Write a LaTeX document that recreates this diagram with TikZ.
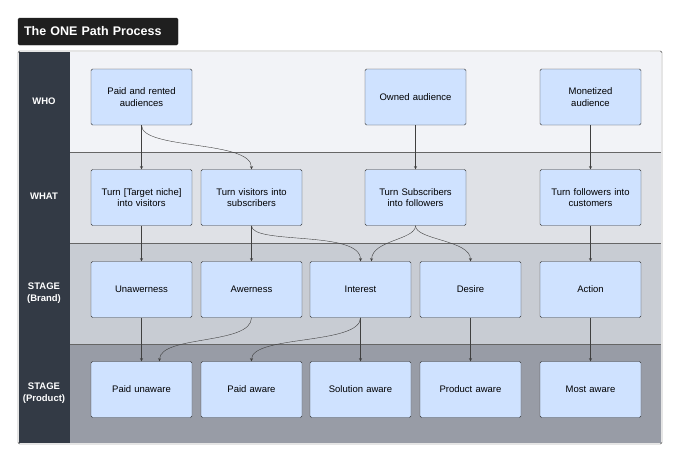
\documentclass[tikz,border=0pt]{standalone}
\usepackage{fontspec}
\setmainfont{Liberation Sans}
\usetikzlibrary{positioning}
\definecolor{darkbar}{HTML}{333A45}
\definecolor{rowa}{HTML}{F2F3F7}
\definecolor{rowb}{HTML}{DFE1E6}
\definecolor{rowc}{HTML}{C8CCD3}
\definecolor{rowd}{HTML}{989CA6}
\definecolor{boxfill}{HTML}{CFE2FF}
\tikzset{
  box/.style={draw=black!80, fill=boxfill, rounded corners=1.5pt, minimum width=101pt, minimum height=56pt, inner sep=2pt, text width=96pt, align=center, font=\fontsize{9.5}{11.5}\selectfont},
  lbl/.style={text=white, font=\bfseries\fontsize{9.5}{11.5}\selectfont, align=center},
  conn/.style={draw=black!75, ->, >=stealth}
}
\begin{document}
\begin{tikzpicture}[x=1pt,y=-1pt]
				\useasboundingbox (0,0) rectangle (680,463);
				% title
				\node[fill=black!88, draw=black!88, rounded corners=1.5pt, text=white, font=\bfseries\fontsize{12.5}{14}\selectfont, minimum width=160pt, minimum height=27pt, text width=148pt, align=left] (title) at (98,31.5) {The ONE Path Process};
				% rows
				\fill[rowa] (70,52) rectangle (661,152);
				\fill[rowb] (70,152) rectangle (661,243);
				\fill[rowc] (70,243) rectangle (661,344);
				\fill[rowd] (70,344) rectangle (661,443);
				\fill[darkbar] (19,52) rectangle (70,443);
				\draw[black!60] (70,152) -- (661,152) (70,243) -- (661,243) (70,344) -- (661,344);
				\draw[black!80, rounded corners=1.5pt] (18,51) rectangle (662,444);
				\node[lbl] (who) at (44,101) {WHO};
				\node[lbl] (what) at (44,196) {WHAT};
				\node[lbl] (brand) at (44,293) {STAGE\\(Brand)};
				\node[lbl] (product) at (44,393) {STAGE\\(Product)};
				
				\node[box] (paid) at (141.5,97) {Paid and rented\\audiences};
				\node[box] (owned) at (415.5,97) {Owned audience};
				\node[box] (monet) at (590.5,97) {Monetized\\audience};
				
				\node[box] (niche) at (141.5,197.5) {Turn [Target niche]\\into visitors};
				\node[box] (visit) at (251.5,197.5) {Turn visitors into\\subscribers};
				\node[box] (subs) at (415.5,197.5) {Turn Subscribers\\into followers};
				\node[box] (follow) at (590.5,197.5) {Turn followers into\\customers};
				
				\node[box] (unaw) at (141.5,289.5) {Unawerness};
				\node[box] (aw) at (251.5,289.5) {Awerness};
				\node[box] (inter) at (360.5,289.5) {Interest};
				\node[box] (desire) at (470.5,289.5) {Desire};
				\node[box] (action) at (590.5,289.5) {Action};
				
				\node[box] (punaw) at (141.5,389.5) {Paid unaware};
				\node[box] (paw) at (251.5,389.5) {Paid aware};
				\node[box] (sol) at (360.5,389.5) {Solution aware};
				\node[box] (prod) at (470.5,389.5) {Product aware};
				\node[box] (most) at (590.5,389.5) {Most aware};
				
				\draw[conn] (paid) -- (niche);
				\draw[conn] (paid.south) .. controls (141.5,150) and (251.5,140) .. (visit.north);
				\draw[conn] (owned) -- (subs);
				\draw[conn] (monet) -- (follow);
				\draw[conn] (niche) -- (unaw);
				\draw[conn] (visit) -- (aw);
				\draw[conn] (visit.south) .. controls (251.5,245) and (360.5,230) .. (inter.north);
				\draw[conn] (subs.south) .. controls (415.5,240) and (372,240) .. ([xshift=11pt]inter.north);
				\draw[conn] (subs.south) .. controls (415.5,240) and (470.5,240) .. (desire.north);
				\draw[conn] (follow) -- (action);
				\draw[conn] (unaw) -- (punaw);
				\draw[conn] (aw.south) .. controls (251.5,345) and (160,335) .. ([xshift=18pt]punaw.north);
				\draw[conn] (inter.south) .. controls (360.5,345) and (251.5,335) .. (paw.north);
				\draw[conn] (inter) -- (sol);
				\draw[conn] (desire) -- (prod);
				\draw[conn] (action) -- (most);
			\end{tikzpicture}
\end{document}
